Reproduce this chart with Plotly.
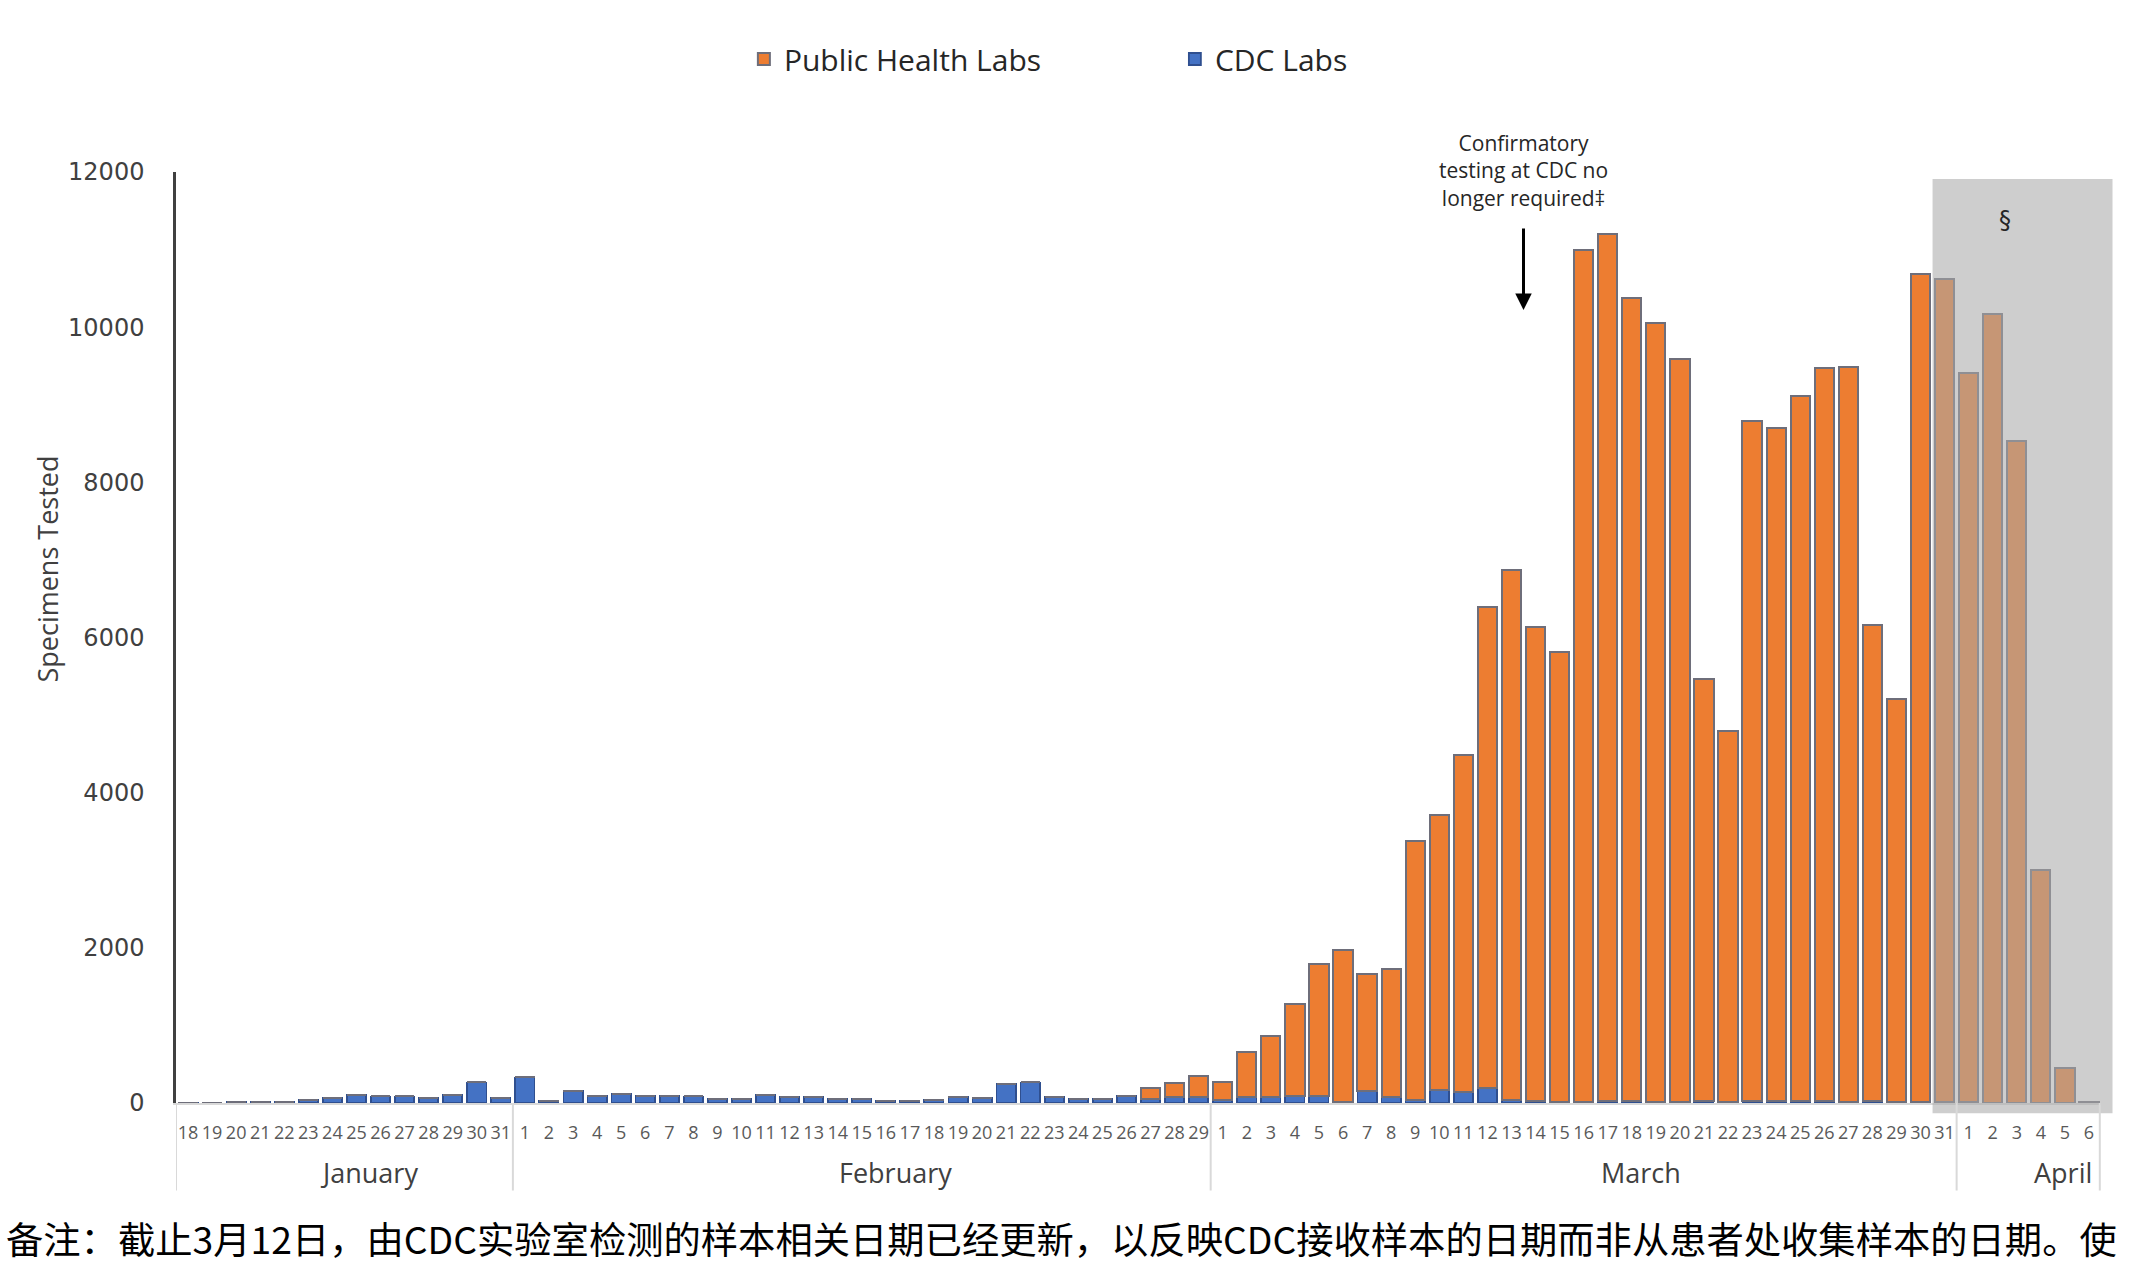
import plotly.graph_objects as go

# ---------------- data ----------------
months = ["January", "February", "March", "April"]
days_jan = ["18","19","20","21","22","23","24","25","26","27","28","29","30","31"]
days_feb = ["1","2","3","4","5","6","7","8","9","10","11","12","13","14","15",
            "16","17","18","19","20","21","22","23","24","25","26","27","28","29"]
days_mar = ["1","2","3","4","5","6","7","8","9","10","11","12","13","14","15","16",
            "17","18","19","20","21","22","23","24","25","26","27","28","29","30","31"]
days_apr = ["1","2","3","4","5","6"]

cdc_jan = [5, 0, 10, 10, 10, 40, 60, 100, 85, 85, 60, 100, 265, 65]
cdc_feb = [330, 30, 150, 95, 115, 95, 95, 85, 50, 50, 100, 75, 75, 55, 55,
           25, 25, 45, 75, 60, 245, 265, 75, 55, 55, 95, 50, 80, 80]
cdc_mar = [35, 80, 80, 90, 85, 10, 155, 80, 35, 165, 145, 190, 35, 20, 10, 10,
           20, 25, 15, 10, 25, 15, 20, 25, 30, 20, 15, 25, 15, 10, 15]
cdc_apr = [10, 5, 5, 5, 0, 0]

phl_jan = [0, 0, 0, 0, 0, 0, 0, 0, 0, 0, 0, 0, 0, 0]
phl_feb = [0, 0, 0, 0, 0, 0, 0, 0, 0, 0, 0, 0, 0, 0, 0,
           0, 0, 0, 0, 0, 0, 0, 0, 0, 0, 0, 140, 180, 270]
phl_mar = [240, 580, 790, 1190, 1710, 1960, 1510, 1650, 3345, 3545, 4340, 6200, 6840,
           6110, 5805, 10980, 11175, 10345, 10040, 9580, 5435, 4775, 8775, 8670,
           9080, 9455, 9475, 6135, 5195, 10670, 10605]
phl_apr = [9400, 10170, 8530, 3000, 455, 15]

y_ticks = [0, 2000, 4000, 6000, 8000, 10000, 12000]
y_tick_labels = ["0", "2000", "4000", "6000", "8000", "10000", "12000"]
note_text = ("备注：截止3月12日，由CDC实验室检测的样本相关日期已经更新，"
             "以反映CDC接收样本的日期而非从患者处收集样本的日期。使")
arrow_text = "Confirmatory<br>testing at CDC no<br>longer required‡"
y_title = "Specimens Tested"

# ---------------- derived ----------------
month_days = [days_jan, days_feb, days_mar, days_apr]
day_labels = days_jan + days_feb + days_mar + days_apr
cdc = cdc_jan + cdc_feb + cdc_mar + cdc_apr
phl = phl_jan + phl_feb + phl_mar + phl_apr
n = len(day_labels)
xi = list(range(n))

starts = []
s = 0
for d in month_days:
    starts.append(s)
    s += len(d)

idx_mar31 = starts[2] + len(days_mar) - 1
idx_mar13 = starts[2] + 12

ORANGE = "#ED7D31"
BLUE = "#4472C4"
TXT = "#404040"

W, H = 2146, 1276
ML, MR, MT, MB = 176, 45, 172, 173
PW = W - ML - MR

fig = go.Figure()
fig.add_trace(go.Bar(x=xi, y=cdc, name="CDC Labs",
                     marker=dict(color=BLUE, line=dict(color="#2F4F8F", width=1.8))))
fig.add_trace(go.Bar(x=xi, y=phl, name="Public Health Labs",
                     marker=dict(color=ORANGE, line=dict(color="#6E6E7A", width=2))))

shapes = []
# shaded region (drawn over the bars)
shapes.append(dict(type="rect", xref="paper", yref="paper",
                   x0=idx_mar31 / n, x1=1 + 11.5 / PW,
                   y0=-0.011, y1=0.9925, fillcolor="rgba(169,169,169,0.57)",
                   line=dict(width=0), layer="above"))
# month dividers below axis
for b in starts + [n]:
    xpos = b - 0.5
    if b == n:
        xpos = n - 0.55
    shapes.append(dict(type="line", xref="x", yref="paper", x0=xpos, x1=xpos,
                       y0=0, y1=-0.094, line=dict(color="#D9D9D9", width=2)))

annotations = []
month_shift = [1.0, 1.4, 2.4, 1.4]
for m, st, d, sh in zip(months, starts, month_days, month_shift):
    center = st + (len(d) - 1) / 2 + sh
    annotations.append(dict(x=center, xref="x", y=-0.0745, yref="paper", text=m,
                            showarrow=False, yanchor="middle", xanchor="center",
                            font=dict(family="Open Sans", size=27, color=TXT)))
# arrow
annotations.append(dict(x=idx_mar13 + 0.5, y=10220, xref="x", yref="y",
                        ax=idx_mar13 + 0.5, ay=11290, axref="x", ayref="y",
                        text="", showarrow=True, arrowhead=2, arrowsize=1.1,
                        arrowwidth=3, arrowcolor="#000000"))
annotations.append(dict(x=idx_mar13 + 0.5, y=1.0015, xref="x", yref="paper",
                        text=arrow_text, showarrow=False, xanchor="center", yanchor="middle",
                        font=dict(family="Open Sans", size=21, color="#262626")))
annotations.append(dict(x=idx_mar31 + 2.5, y=11380, xref="x", yref="y", text="§",
                        showarrow=False, font=dict(family="DejaVu Sans", size=24, color="#262626")))
# y axis title (placed as in the reference, above the axis centre)
annotations.append(dict(x=-(ML - 48) / PW, y=0.573, xref="paper", yref="paper", text=y_title,
                        textangle=-90, showarrow=False, xanchor="center", yanchor="middle",
                        font=dict(family="Open Sans", size=27, color=TXT)))
annotations.append(dict(x=-(ML - 4) / PW, y=-0.145, xref="paper", yref="paper", text=note_text,
                        showarrow=False, xanchor="left", yanchor="middle",
                        font=dict(family="Noto Sans CJK SC", size=37.3, color="#000000")))

fig.update_layout(
    width=W, height=H,
    margin=dict(l=ML, r=MR, t=MT, b=MB, pad=0),
    paper_bgcolor="white", plot_bgcolor="white",
    barmode="stack", bargap=0.2,
    showlegend=True,
    legend=dict(orientation="h", x=0.295, xanchor="left", y=1.1214, yanchor="middle",
                traceorder="reversed", entrywidth=386, entrywidthmode="pixels",
                font=dict(family="Open Sans", size=30, color="#262626"),
                bgcolor="rgba(0,0,0,0)"),
    xaxis=dict(range=[-0.5, n - 0.5], tickmode="array", tickvals=xi, ticktext=day_labels,
               tickangle=0, showgrid=False, zeroline=False, showline=True,
               linecolor="#D9D9D9", linewidth=2, ticks="", ticklabelstandoff=12,
               tickfont=dict(family="Open Sans", size=18, color="#595959")),
    yaxis=dict(range=[0, 12000], tickmode="array", tickvals=y_ticks, ticktext=y_tick_labels,
               showgrid=False, zeroline=False, showline=True, linecolor="#404040",
               linewidth=2.5, ticks="", ticklabelstandoff=24,
               tickfont=dict(family="DejaVu Sans", size=24, color=TXT)),
    shapes=shapes,
    annotations=annotations,
)

fig.write_html("out.html", config={"displayModeBar": False},
               post_script="document.body.style.margin='0';document.body.style.overflow='hidden';")
